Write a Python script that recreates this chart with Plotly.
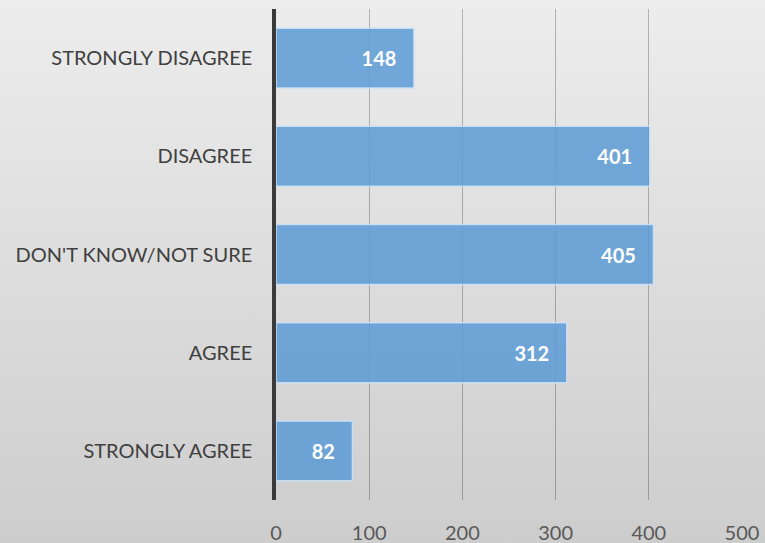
import plotly.graph_objects as go

categories = ["STRONGLY AGREE", "AGREE", "DON'T KNOW/NOT SURE", "DISAGREE", "STRONGLY DISAGREE"]
values = [82, 312, 405, 401, 148]
x_ticks = [0, 100, 200, 300, 400, 500]

fig = go.Figure()

# background gradient (paper-covering helper subplot)
fig.add_trace(go.Scatter(
    x=[0, 1, 1, 0, 0], y=[0, 0, 1, 1, 0], mode="none", fill="toself",
    fillgradient=dict(type="vertical", colorscale=[[0, "#cdcdcd"], [1, "#ededed"]]),
    hoverinfo="skip", showlegend=False, xaxis="x", yaxis="y",
))

fig.add_trace(go.Bar(
    y=categories, x=values, orientation="h",
    marker=dict(color="rgba(91,155,213,0.85)", line=dict(color="rgba(205,225,245,0.9)", width=1.5)),
    text=[f"{v}\u00a0\u00a0\u00a0" for v in values],
    textposition="inside", insidetextanchor="end",
    textfont=dict(family="Lato", size=20, color="white", weight="bold"),
    xaxis="x2", yaxis="y2", showlegend=False, cliponaxis=False,
))

fig.update_layout(
    width=765, height=543,
    margin=dict(l=0, r=0, t=0, b=0),
    paper_bgcolor="#e0e0e0", plot_bgcolor="rgba(0,0,0,0)",
    bargap=0.39,
    xaxis=dict(domain=[0, 1], range=[0, 1], visible=False, fixedrange=True),
    yaxis=dict(domain=[0, 1], range=[0, 1], visible=False, fixedrange=True),
    xaxis2=dict(domain=[276/765, 742/765], anchor="y2", range=[0, 500],
                tickvals=x_ticks, showgrid=True, gridcolor="rgba(0,0,0,0.25)", gridwidth=1.2,
                zeroline=False, showline=False, ticks="", ticklabelstandoff=19,
                tickfont=dict(family="Lato", size=20, color="#595959"), automargin=False),
    yaxis2=dict(domain=[43/543, 534/543], anchor="x2", type="category",
                showline=True, linecolor="#3a3a3a", linewidth=3.5, showgrid=False,
                ticks="", ticklabelstandoff=16,
                tickfont=dict(family="Lato", size=20, color="#404040"), automargin=False),
)

fig.write_html("out.html", config={"displayModeBar": False},
               post_script="document.body.style.margin='0';")
